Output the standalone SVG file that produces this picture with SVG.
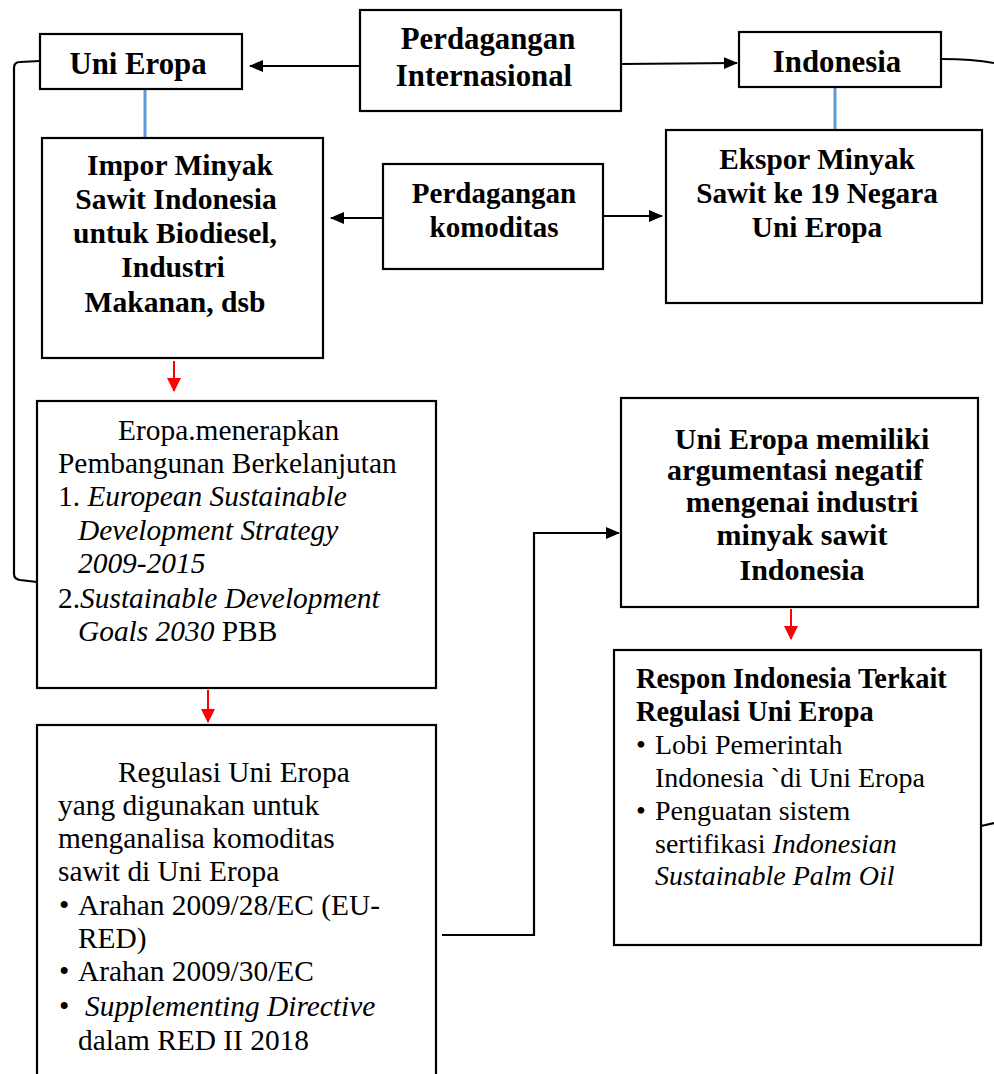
<svg xmlns="http://www.w3.org/2000/svg" width="994" height="1074" viewBox="0 0 994 1074">
<style>
.box{fill:#fff;stroke:#000;stroke-width:2.2}
.b{font-family:"Liberation Serif","Times New Roman",serif;font-weight:bold;font-size:29px;fill:#000}
.r{font-family:"Liberation Serif","Times New Roman",serif;font-size:29.4px;fill:#000}
.rs{font-size:28px}
.top{font-size:30.8px}
.c{text-anchor:middle}
.i{font-style:italic}
.ln{fill:none;stroke:#000;stroke-width:2.2}
.blue{fill:none;stroke:#5B9BD5;stroke-width:3}
.red{fill:none;stroke:#FF0000;stroke-width:2}
</style>
<defs>
<marker id="ahb" markerWidth="14" markerHeight="14" refX="13" refY="7" orient="auto" markerUnits="userSpaceOnUse" viewBox="0 0 14 14">
<path d="M0,1 L14,7 L0,13 z" fill="#000"/>
</marker>
<marker id="ahr" markerWidth="14" markerHeight="16" refX="13" refY="8" orient="auto" markerUnits="userSpaceOnUse" viewBox="0 0 14 16">
<path d="M0,1 L14,8 L0,15 z" fill="#FF0000"/>
</marker>
</defs>

<g id="connectors">
<line class="ln" x1="360" y1="66" x2="250" y2="66" marker-end="url(#ahb)"/>
<line class="ln" x1="621" y1="64" x2="737" y2="63" marker-end="url(#ahb)"/>
<line class="blue" x1="145" y1="89" x2="145" y2="138"/>
<line class="blue" x1="835" y1="87" x2="835" y2="130"/>
<line class="ln" x1="383" y1="218" x2="331" y2="218" marker-end="url(#ahb)"/>
<line class="ln" x1="603" y1="216" x2="662" y2="216" marker-end="url(#ahb)"/>
<line class="red" x1="174" y1="361" x2="174" y2="391" marker-end="url(#ahr)"/>
<line class="red" x1="208" y1="690" x2="208" y2="722" marker-end="url(#ahr)"/>
<line class="red" x1="791" y1="609" x2="791" y2="639" marker-end="url(#ahr)"/>
<path class="ln" d="M40,61 L20,62 Q14,62 14,68 L14,574 Q14,579 20,580 L37,582"/>
<path class="ln" d="M942,59 C962,59 978,60 994,63"/>
<path class="ln" d="M981,826 L994,823"/>
<path class="ln" d="M442,935 L534,935 L534,533 L619,533" marker-end="url(#ahb)"/>
</g>

<g id="uni-eropa">
<rect class="box" x="40" y="34" width="202" height="55"/>
<text class="b c top" x="138" y="74">Uni Eropa</text>
</g>

<g id="perdagangan-internasional">
<rect class="box" x="360" y="10" width="261" height="101"/>
<text class="b c top" x="488" y="49">Perdagangan</text>
<text class="b c top" x="484" y="86">Internasional</text>
</g>

<g id="indonesia">
<rect class="box" x="739" y="32" width="202" height="55"/>
<text class="b c top" x="837" y="72">Indonesia</text>
</g>

<g id="impor">
<rect class="box" x="42" y="138" width="281" height="220"/>
<text class="b c" x="180" y="175" style="font-size:29.6px">Impor Minyak</text>
<text class="b c" x="176" y="209" style="font-size:29.6px">Sawit Indonesia</text>
<text class="b c" x="175" y="243" style="font-size:29.6px">untuk Biodiesel,</text>
<text class="b c" x="173" y="277" style="font-size:29.6px">Industri</text>
<text class="b c" x="175" y="312" style="font-size:29.6px">Makanan, dsb</text>
</g>

<g id="perdagangan-komoditas">
<rect class="box" x="383" y="164" width="220" height="105"/>
<text class="b c" x="494" y="203">Perdagangan</text>
<text class="b c" x="494" y="237">komoditas</text>
</g>

<g id="ekspor">
<rect class="box" x="666" y="130" width="316" height="173"/>
<text class="b c" x="817" y="169" style="font-size:29.3px">Ekspor Minyak</text>
<text class="b c" x="817" y="203" style="font-size:29.3px">Sawit ke 19 Negara</text>
<text class="b c" x="817" y="237" style="font-size:29.3px">Uni Eropa</text>
</g>

<g id="eropa-menerapkan">
<rect class="box" x="37" y="401" width="399" height="287"/>
<text class="r" x="118" y="440">Eropa.menerapkan</text>
<text class="r" x="58" y="473">Pembangunan Berkelanjutan</text>
<text class="r" x="58" y="506">1. <tspan class="i">European Sustainable</tspan></text>
<text class="r i" x="78" y="540">Development Strategy</text>
<text class="r i" x="78" y="573">2009-2015</text>
<text class="r" x="58" y="608">2.<tspan class="i">Sustainable Development</tspan></text>
<text class="r" x="78" y="641"><tspan class="i">Goals 2030</tspan> PBB</text>
</g>

<g id="argumentasi">
<rect class="box" x="621" y="398" width="357" height="209"/>
<text class="b c" x="802" y="449" style="font-size:30px">Uni Eropa memiliki</text>
<text class="b c" x="795" y="480" style="font-size:30px">argumentasi negatif</text>
<text class="b c" x="802" y="512" style="font-size:30px">mengenai industri</text>
<text class="b c" x="802" y="545" style="font-size:30px">minyak sawit</text>
<text class="b c" x="802" y="580" style="font-size:30px">Indonesia</text>
</g>

<g id="respon">
<rect class="box" x="614" y="650" width="367" height="295"/>
<text class="b" x="636" y="688" style="font-size:28.4px">Respon Indonesia Terkait</text>
<text class="b" x="636" y="721" style="font-size:28.4px">Regulasi Uni Eropa</text>
<text class="r rs" x="636" y="754">•</text>
<text class="r rs" x="655" y="754">Lobi Pemerintah</text>
<text class="r rs" x="655" y="787">Indonesia `di Uni Eropa</text>
<text class="r rs" x="636" y="820">•</text>
<text class="r rs" x="655" y="820">Penguatan sistem</text>
<text class="r rs" x="655" y="853">sertifikasi <tspan class="i">Indonesian</tspan></text>
<text class="r rs i" x="655" y="885">Sustainable Palm Oil</text>
</g>

<g id="regulasi">
<rect class="box" x="37" y="725" width="399" height="360"/>
<text class="r" x="118" y="782">Regulasi Uni Eropa</text>
<text class="r" x="58" y="815">yang digunakan untuk</text>
<text class="r" x="58" y="848">menganalisa komoditas</text>
<text class="r" x="58" y="881">sawit di Uni Eropa</text>
<text class="r" x="59" y="915">•</text>
<text class="r" x="78" y="915">Arahan 2009/28/EC (EU-</text>
<text class="r" x="78" y="948">RED)</text>
<text class="r" x="59" y="981">•</text>
<text class="r" x="78" y="981">Arahan 2009/30/EC</text>
<text class="r" x="59" y="1016">•</text>
<text class="r i" x="85" y="1016">Supplementing Directive</text>
<text class="r" x="78" y="1050">dalam RED II 2018</text>
</g>
</svg>
